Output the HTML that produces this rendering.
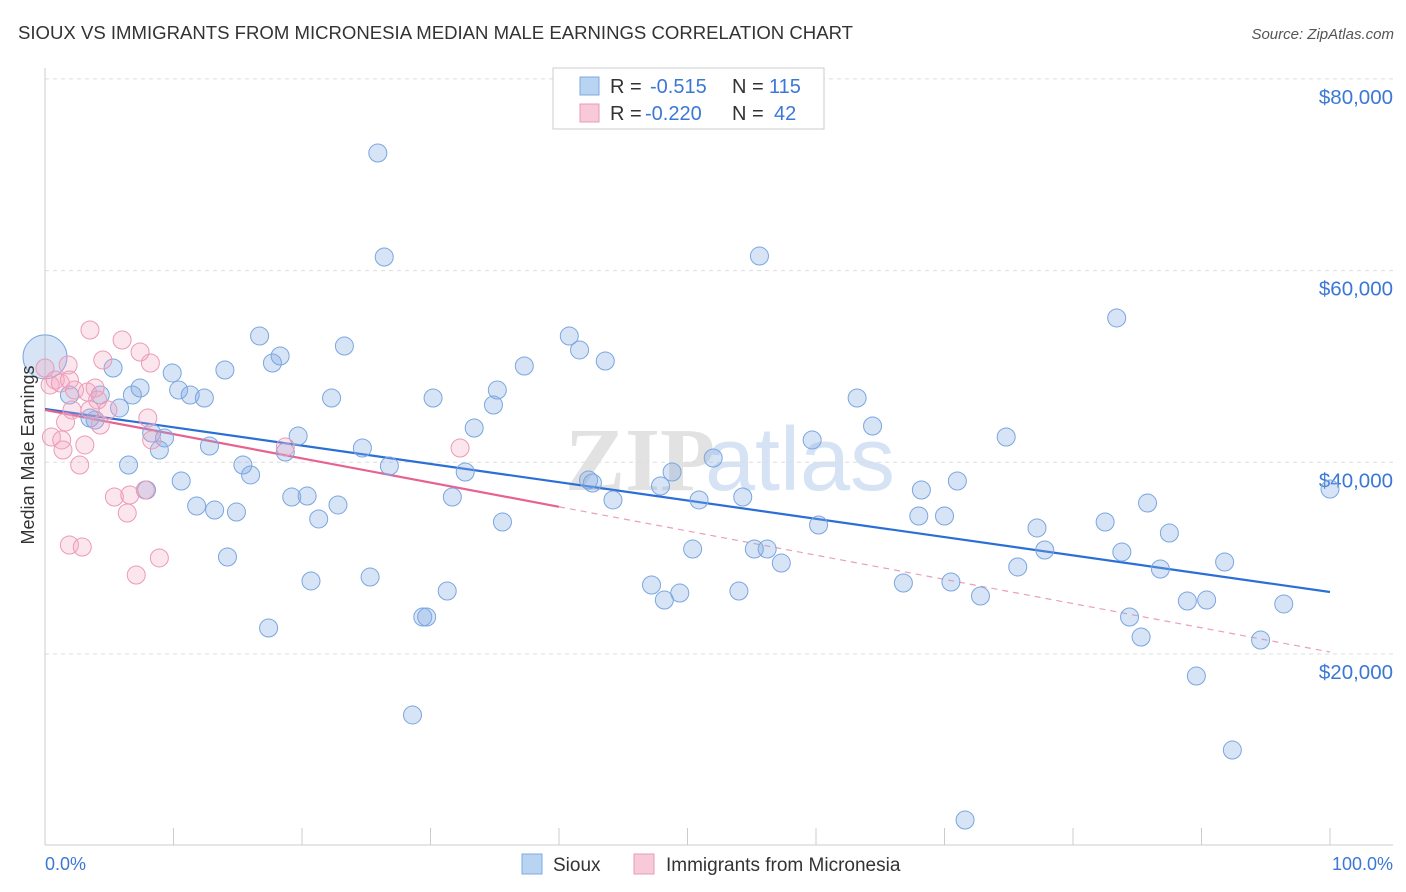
<!DOCTYPE html>
<html><head><meta charset="utf-8"><style>
body{margin:0;background:#fff;font-family:"Liberation Sans",sans-serif;}
svg{display:block}
</style></head><body>
<svg id="chart" width="1406" height="892" viewBox="0 0 1406 892" xmlns="http://www.w3.org/2000/svg">
<text x="18" y="39" font-size="18" fill="#333" textLength="835" lengthAdjust="spacingAndGlyphs">SIOUX VS IMMIGRANTS FROM MICRONESIA MEDIAN MALE EARNINGS CORRELATION CHART</text>
<text x="1394" y="39" font-size="15" fill="#555" font-style="italic" text-anchor="end">Source: ZipAtlas.com</text>
<g font-size="90" text-anchor="middle">
<text x="640" y="490" fill="#e2e2e2" font-weight="bold" font-family="Liberation Serif,serif">ZIP</text>
<text x="800" y="490" fill="#d5e3f5">atlas</text>
</g>
<g id="grid"></g>
<g id="axes"></g>
<g id="lines"></g>
<g id="pts"></g>
<text transform="translate(34,455) rotate(-90)" font-size="18" fill="#333" text-anchor="middle">Median Male Earnings</text>
<text x="45" y="870" font-size="18" fill="#3b78d6">0.0%</text>
<text x="1393" y="870" font-size="18" fill="#3b78d6" text-anchor="end">100.0%</text>
<g font-size="20">
<rect x="553" y="68" width="271" height="61" fill="#fff" stroke="#ccc"/>
<rect x="580" y="77" width="19" height="18" fill="#b9d3f3" stroke="#7ea8e0"/>
<rect x="580" y="104" width="19" height="18" fill="#f8c9d8" stroke="#e99ab5"/>
<text x="610" y="93" fill="#333">R =</text><text x="650" y="93" fill="#3b78d6">-0.515</text>
<text x="732" y="93" fill="#333">N =</text><text x="769" y="93" fill="#3b78d6">115</text>
<text x="610" y="120" fill="#333">R =</text><text x="645" y="120" fill="#3b78d6">-0.220</text>
<text x="732" y="120" fill="#333">N =</text><text x="774" y="120" fill="#3b78d6">42</text>
</g>
<g font-size="19" fill="#333">
<rect x="522" y="854" width="20" height="20" fill="#b9d3f3" stroke="#7ea8e0"/>
<text x="553" y="871">Sioux</text>
<rect x="634" y="854" width="20" height="20" fill="#f8c9d8" stroke="#e99ab5"/>
<text x="666" y="871">Immigrants from Micronesia</text>
</g>
</svg>
<script>
const yTicks=[20000,40000,60000,80000];
const yTickLabels=["$20,000","$40,000","$60,000","$80,000"];
const xTicks=[0,10,20,30,40,50,60,70,80,90,100];
const siouxX=[0,1.9,3.5,3.9,4.3,5.3,5.8,6.5,6.8,7.4,7.9,8.3,8.9,9.3,9.9,10.4,10.6,11.3,11.8,12.4,12.8,13.2,14.0,14.2,14.9,15.4,16.0,16.7,17.4,17.7,18.3,18.7,19.2,19.7,20.4,20.7,21.3,22.3,22.8,23.3,24.7,25.3,25.9,26.4,26.8,28.6,29.4,29.7,30.2,31.3,31.7,32.7,33.4,34.9,35.2,35.6,37.3,40.8,41.6,42.3,42.6,43.6,44.2,47.2,47.9,48.2,48.8,49.4,50.4,50.9,52.0,54.0,54.3,55.2,55.6,56.2,57.3,59.7,60.2,63.2,64.4,66.8,68.0,68.2,70.0,70.5,71.0,71.6,72.8,74.8,75.7,77.2,77.8,82.5,83.4,83.8,84.4,85.3,85.8,86.8,87.5,88.9,89.6,90.4,91.8,92.4,94.6,96.4,100];
const siouxY=[51000,47020,44620,44410,47020,49840,45670,39720,47020,47750,37110,43060,41280,42540,49320,47540,38050,47020,35440,46710,41700,35020,49630,30120,34810,39720,38680,53180,22710,50360,51090,41070,36380,42740,36480,27620,34090,46710,35550,52130,41490,28030,72270,61420,39610,13640,23860,23860,46710,26570,36380,38990,43580,45980,47540,33770,50050,53180,51720,38150,37840,50570,36070,27200,37530,25630,38990,26360,30950,36070,40450,26570,36380,30950,61520,30950,29490,42330,33460,46710,43790,27410,34400,37110,34400,27510,38050,2680,26050,42640,29080,33150,30850,33770,55060,30640,23860,21770,35750,28870,32620,25530,17700,25630,29600,9980,21460,25220,37210];
const micX=[0,0.4,0.5,0.8,1.2,1.3,1.4,1.6,1.8,1.9,2.1,2.3,2.7,2.9,3.1,3.3,3.5,3.9,4.1,4.3,4.5,4.9,5.4,6.0,6.4,6.6,7.1,7.4,7.8,8.0,8.2,8.3,8.9,18.7,32.3,1.9,3.5];
const micY=[49840,48070,42640,48590,48270,42330,41280,44200,50150,31370,45460,47540,39720,31160,41810,47330,53800,47750,46500,43890,50670,45460,36380,52760,34710,36590,28240,51510,37110,44620,50360,42330,30020,41590,41490,48590,45460];
const siouxTrend=[45560,26470];
const micTrend=[45460,20210];
const micSolidEnd=40;
const X=v=>45+v*12.85, Y=v=>845.7-v/104.33;
const NS="http://www.w3.org/2000/svg";
function mk(p,t,a){const e=document.createElementNS(NS,t);for(const k in a)e.setAttribute(k,a[k]);document.getElementById(p).appendChild(e);return e;}
yTicks.forEach((v,i)=>{
 const g=mk('grid','line',{x1:45,x2:1393,y1:Y(v),y2:Y(v),stroke:'#ddd','stroke-dasharray':'4,4'});
 
 
 const t=mk('grid','text',{x:1393,y:Y(v)+25,'font-size':20.5,fill:'#3b78d6','text-anchor':'end'});
 t.textContent=yTickLabels[i];
 
 
});
const ax=mk('axes','line',{x1:45,x2:45,y1:68,y2:845,stroke:'#ccc'});


const bx=mk('axes','line',{x1:45,x2:1393,y1:845,y2:845,stroke:'#ccc'});


xTicks.forEach(v=>{const t=mk('axes','line',{x1:X(v),x2:X(v),y1:828,y2:845,stroke:'#ccc'});
 
 });
siouxX.forEach((x,i)=>{const c=mk('pts','circle',{cx:X(x),cy:Y(siouxY[i]),r:i===0?22:9,fill:'rgba(130,172,228,0.32)',stroke:'#7aa6e0','stroke-width':1});
 
 });
micX.forEach((x,i)=>{const c=mk('pts','circle',{cx:X(x),cy:Y(micY[i]),r:9,fill:'rgba(245,165,195,0.28)',stroke:'#eb9ab6','stroke-width':1});
 
 });
const l1=mk('lines','line',{x1:X(0),y1:Y(siouxTrend[0]),x2:X(100),y2:Y(siouxTrend[1]),stroke:'#2a6fd6','stroke-width':2.2});


const mv=micTrend[0]+(micTrend[1]-micTrend[0])*micSolidEnd/100;
const l2=mk('lines','line',{x1:X(0),y1:Y(micTrend[0]),x2:X(micSolidEnd),y2:Y(mv),stroke:'#e8628f','stroke-width':2.2});


const l3=mk('lines','line',{x1:X(micSolidEnd),y1:Y(mv),x2:X(100),y2:Y(micTrend[1]),stroke:'#e8a0b8','stroke-width':1.2,'stroke-dasharray':'6,5'});


</script>
</body></html>
